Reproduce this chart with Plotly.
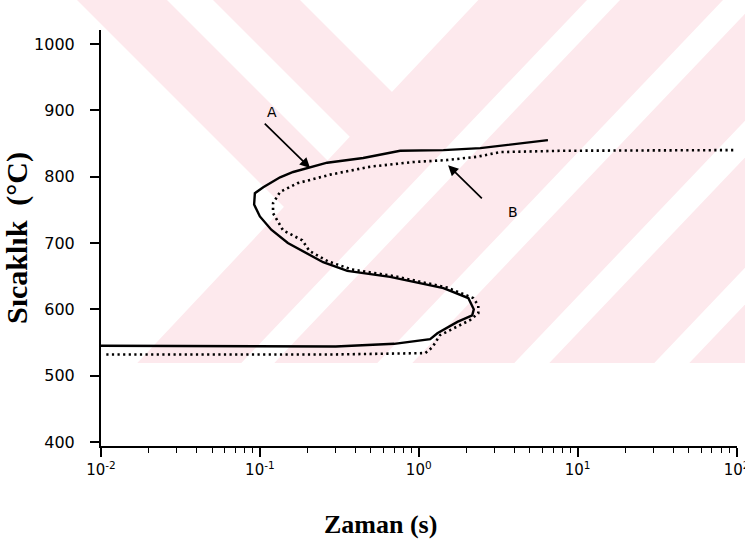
import numpy as np
import plotly.graph_objects as go

# ---- data ----
a_time = [0.01, 0.10, 0.30, 0.70, 1.18, 1.31, 1.75, 2.17, 2.22, 2.05, 1.43, 0.66, 0.355, 0.25,
          0.19, 0.150, 0.118, 0.100, 0.092, 0.093, 0.105, 0.134, 0.162, 0.207, 0.265, 0.447,
          0.764, 1.43, 2.44, 6.5]
a_temp = [545, 545, 544, 548, 555, 564, 581, 591, 600, 617, 632, 649, 658, 671,
          686, 700, 720, 740, 758, 775, 784, 799, 807, 814, 821, 828,
          839, 840, 843, 855]

b_time = [0.0108, 0.3, 1.10, 1.22, 1.36, 2.11, 2.37, 2.37, 2.20, 1.50, 0.70, 0.38, 0.27,
          0.205, 0.185, 0.14, 0.121, 0.121, 0.134, 0.172, 0.277, 0.495, 0.923, 1.51,
          2.34, 3.26, 8.1, 100]
b_temp = [532, 532, 534, 543, 561, 584, 594, 606, 617, 633, 650, 660, 672,
          688, 704, 719, 745, 760, 777, 790, 803, 815, 822, 825,
          830, 837, 839, 840]

x_tickvals = [0.01, 0.1, 1, 10, 100]
x_ticktext = ["10<sup>-2</sup>", "10<sup>-1</sup>", "10<sup>0</sup>", "10<sup>1</sup>", "10<sup>2</sup>"]
y_tickvals = [400, 500, 600, 700, 800, 900, 1000]

label_a = {"text": "A", "time": 0.119, "temp": 897}
label_b = {"text": "B", "time": 3.94, "temp": 747}
arrow_a = {"tail": (0.105, 882), "head": (0.207, 813)}
arrow_b = {"tail": (2.55, 765), "head": (1.53, 817)}

x_title = "Zaman (s)"
y_title = "Sıcaklık  (°C)"

# ---- layout geometry (pixels) ----
W, H = 745, 545
L, R, T, B = 101, 8, 30, 99
PW, PH = W - L - R, H - T - B


def px(xp):
    return (xp - L) / PW


def py(yp):
    return (H - B - yp) / PH


def poly(points):
    return "M " + " L ".join(f"{px(x):.5f},{py(y):.5f}" for x, y in points) + " Z"


# watermark (scan background) shapes
PINK = "#fde9ed"
s = 1.05
shapes = []
shapes.append(dict(type="path", path=poly([(483, -5), (760, -5), (760, 363), (483 - 363 / s, 363)]),
                   xref="paper", yref="paper", fillcolor=PINK, line=dict(width=0), layer="below"))
shapes.append(dict(type="path", path=poly([(72, -5), (162, -5), (329, 162), (285, 208)]),
                   xref="paper", yref="paper", fillcolor=PINK, line=dict(width=0), layer="below"))
shapes.append(dict(type="path", path=poly([(208, -5), (295, -5), (393, 93), (351, 138)]),
                   xref="paper", yref="paper", fillcolor=PINK, line=dict(width=0), layer="below"))
for a0, b0 in [(587, 620), (723, 758), (860, 895), (1000, 1035)]:
    shapes.append(dict(type="path",
                       path=poly([(a0, 0), (b0, 0), (b0 - 363 / s, 363), (a0 - 363 / s, 363)]),
                       xref="paper", yref="paper", fillcolor="white", line=dict(width=0), layer="below"))

fig = go.Figure()
fig.add_trace(go.Scatter(x=a_time, y=a_temp, mode="lines", name="A",
                         line=dict(color="black", width=2.4)))
fig.add_trace(go.Scatter(x=b_time, y=b_temp, mode="lines", name="B",
                         line=dict(color="black", width=2.6, dash="2.2px,3.4px")))

annotations = []
for arr in (arrow_a, arrow_b):
    annotations.append(dict(x=np.log10(arr["head"][0]), y=arr["head"][1],
                            ax=np.log10(arr["tail"][0]), ay=arr["tail"][1],
                            xref="x", yref="y", axref="x", ayref="y", text="",
                            showarrow=True, arrowhead=2, arrowsize=1.2, arrowwidth=1.7,
                            arrowcolor="black"))
for lab in (label_a, label_b):
    annotations.append(dict(x=np.log10(lab["time"]), y=lab["temp"], xref="x", yref="y",
                            text=lab["text"], showarrow=False,
                            font=dict(family="DejaVu Sans", size=14, color="black")))
annotations.append(dict(x=px(380), y=py(524), xref="paper", yref="paper", text=f"<b>{x_title}</b>",
                        showarrow=False, xanchor="center", yanchor="middle",
                        font=dict(family="Liberation Serif", size=26, color="black")))

minor_vals = [k * 10.0 ** e for e in range(-2, 2) for k in range(2, 10)]

fig.update_layout(
    width=W, height=H,
    margin=dict(l=L, r=R, t=T, b=B),
    paper_bgcolor="white", plot_bgcolor="rgba(0,0,0,0)",
    showlegend=False,
    shapes=shapes,
    annotations=annotations,
    xaxis=dict(type="log", range=[-2, 2.003], tickmode="array", tickvals=x_tickvals,
               ticktext=x_ticktext, ticks="outside", ticklen=9, tickwidth=1.6, tickcolor="black",
               showline=True, linecolor="black", linewidth=2, showgrid=False, zeroline=False,
               automargin=False, ticklabeloverflow="allow",
               minor=dict(tickmode="array", tickvals=minor_vals, ticks="outside", ticklen=5,
                          tickwidth=1.4, tickcolor="black", showgrid=False),
               tickfont=dict(family="DejaVu Sans", size=15, color="black")),
    yaxis=dict(range=[394, 1021], tickmode="array", tickvals=y_tickvals,
               ticks="outside", ticklen=9, tickwidth=1.6, tickcolor="black",
               ticklabelstandoff=12, automargin=False,
               showline=True, linecolor="black", linewidth=2, showgrid=False, zeroline=False,
               tickfont=dict(family="DejaVu Sans", size=16, color="black"),
               title=dict(text=f"<b>{y_title}</b>", standoff=8,
                          font=dict(family="Liberation Serif", size=30, color="black"))),
)

fig.write_html("out.html", config={"displayModeBar": False},
               post_script="document.body.style.margin='0';document.body.style.padding='0';")
